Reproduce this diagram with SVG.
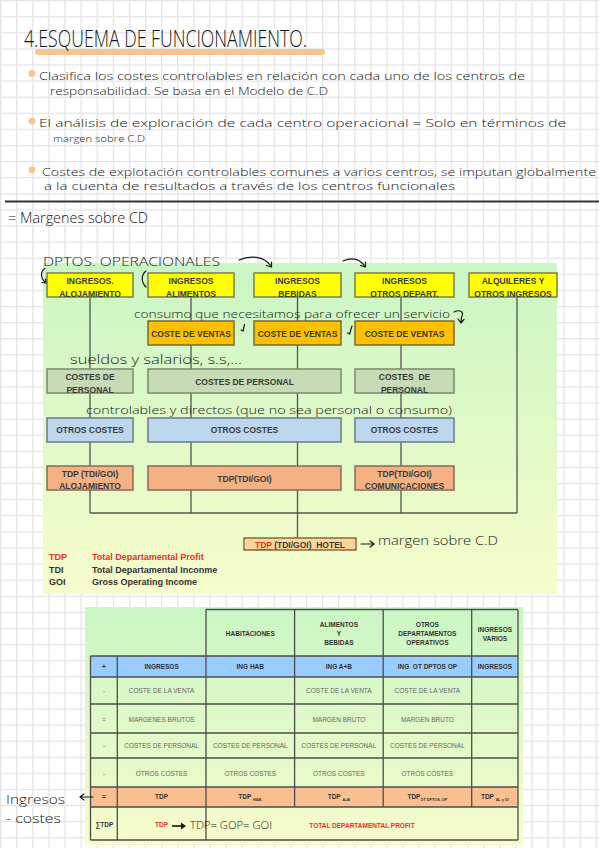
<svg xmlns="http://www.w3.org/2000/svg" width="599" height="848" viewBox="0 0 599 848">
<defs>
<pattern id="grid" width="16.1" height="16.1" patternUnits="userSpaceOnUse">
<rect width="16.1" height="16.1" fill="#ffffff"/>
<path d="M0.6 0V16.1M0 0.6H16.1" stroke="#e3e3e3" stroke-width="1.2"/>
</pattern>
<linearGradient id="g1" x1="0" y1="0" x2="0" y2="1">
<stop offset="0" stop-color="#c9f6c4"/><stop offset="1" stop-color="#f7fccb"/>
</linearGradient>
<style>
.hand{font-family:"Open Sans","Noto Sans",sans-serif;font-weight:300;fill:#161616}
.ink{fill:none;stroke:#161616;stroke-width:1.2;stroke-linecap:round;stroke-linejoin:round}
.bt{font-family:"Liberation Sans",Arial,sans-serif;font-weight:bold;font-size:8.5px;fill:#3a3a3a;text-anchor:middle}
.yel{fill:#ffff00;stroke:#7d7d45;stroke-width:1.5}
.org{fill:#ffc000;stroke:#7a6a3a;stroke-width:1.5}
.per{fill:#c6dbb6;stroke:#7a8a6a;stroke-width:1.5}
.otr{fill:#bdd7ee;stroke:#6a7a8a;stroke-width:1.5}
.tdp{fill:#f4b183;stroke:#8a6a55;stroke-width:1.5}
.con{stroke:#555555;stroke-width:1.3;fill:none}
.leg{font-family:"Liberation Sans",Arial,sans-serif;font-weight:bold;font-size:9px;fill:#333}
.tl{stroke:#4d4d4d;stroke-width:1.3;fill:none}
.th{font-family:"Liberation Sans",Arial,sans-serif;font-weight:bold;font-size:6.5px;fill:#333;text-anchor:middle}
.td{font-family:"Liberation Sans",Arial,sans-serif;font-size:6.5px;fill:#666;text-anchor:middle}
.red{fill:#e8312a}
</style>
</defs>

<rect width="599" height="848" fill="url(#grid)"/>

<!-- header notes -->
<g id="title">
<path d="M38 52H322" stroke="#f9c48c" stroke-width="6" stroke-linecap="round"/>
<text class="hand" x="24" y="47" font-size="23" textLength="283" lengthAdjust="spacingAndGlyphs">4.ESQUEMA DE FUNCIONAMIENTO.</text>
</g>
<g id="bullets">
<circle cx="32" cy="73.5" r="3.4" fill="#f7c68f"/>
<text class="hand" x="39" y="80" font-size="11.5" textLength="486" lengthAdjust="spacingAndGlyphs">Clasifica los costes controlables en relación con cada uno de los centros de</text>
<text class="hand" x="50" y="95" font-size="10.5" textLength="278" lengthAdjust="spacingAndGlyphs">responsabilidad. Se basa en el Modelo de C.D</text>
<circle cx="32" cy="121" r="3.4" fill="#f7c68f"/>
<text class="hand" x="39" y="127" font-size="11.5" textLength="527" lengthAdjust="spacingAndGlyphs">El análisis de exploración de cada centro operacional = Solo en términos de</text>
<text class="hand" x="53" y="142" font-size="8.5" textLength="92" lengthAdjust="spacingAndGlyphs">margen sobre C.D</text>
<circle cx="32" cy="170" r="3.4" fill="#f7c68f"/>
<text class="hand" x="42" y="176" font-size="11.5" textLength="554" lengthAdjust="spacingAndGlyphs">Costes de explotación controlables comunes a varios centros, se imputan globalmente</text>
<text class="hand" x="44" y="190" font-size="11" textLength="411" lengthAdjust="spacingAndGlyphs">a la cuenta de resultados a través de los centros funcionales</text>
</g>
<path d="M5 201.5H599" stroke="#333" stroke-width="2"/>
<text class="hand" x="8" y="223" font-size="14" textLength="140" lengthAdjust="spacingAndGlyphs">= Margenes sobre CD</text>

<!-- diagram background -->
<rect x="43" y="263" width="514" height="331" fill="url(#g1)"/>

<g id="connectors">
<path class="con" d="M90 297V513M191 297V513M297.5 297V538M401 297V513M517 297V513M90 513H517"/>
</g>

<g id="n-ing-aloj"><rect class="yel" x="47" y="273" width="86" height="24"/><text class="bt" x="90" y="284">INGRESOS.</text><text class="bt" x="90" y="296.5">ALOJAMIENTO</text></g>
<g id="n-ing-alim"><rect class="yel" x="148" y="273" width="86" height="24"/><text class="bt" x="191" y="284">INGRESOS</text><text class="bt" x="191" y="296.5">ALIMENTOS</text></g>
<g id="n-ing-beb"><rect class="yel" x="254" y="273" width="87" height="24"/><text class="bt" x="297.5" y="284">INGRESOS</text><text class="bt" x="297.5" y="296.5">BEBIDAS</text></g>
<g id="n-ing-otros"><rect class="yel" x="355" y="273" width="99" height="24"/><text class="bt" x="404.5" y="284">INGRESOS</text><text class="bt" x="404.5" y="296.5">OTROS DEPART.</text></g>
<g id="n-alq"><rect class="yel" x="469" y="273" width="88" height="24"/><text class="bt" x="513" y="284">ALQUILERES Y</text><text class="bt" x="513" y="296.5">OTROS INGRESOS</text></g>

<g id="n-cv1"><rect class="org" x="148" y="321" width="86" height="24"/><text class="bt" x="191" y="336.5">COSTE DE VENTAS</text></g>
<g id="n-cv2"><rect class="org" x="254" y="321" width="87" height="24"/><text class="bt" x="297.5" y="336.5">COSTE DE VENTAS</text></g>
<g id="n-cv3"><rect class="org" x="355" y="321" width="99" height="24"/><text class="bt" x="404.5" y="336.5">COSTE DE VENTAS</text></g>

<g id="n-cp1"><rect class="per" x="47" y="369" width="86" height="24"/><text class="bt" x="90" y="380">COSTES DE</text><text class="bt" x="90" y="392.5">PERSONAL</text></g>
<g id="n-cp2"><rect class="per" x="148" y="369" width="193" height="24"/><text class="bt" x="244.5" y="384.5">COSTES DE PERSONAL</text></g>
<g id="n-cp3"><rect class="per" x="355" y="369" width="99" height="24"/><text class="bt" x="404.5" y="380" xml:space="preserve">COSTES  DE</text><text class="bt" x="404.5" y="392.5">PERSONAL</text></g>

<g id="n-oc1"><rect class="otr" x="47" y="418" width="86" height="24"/><text class="bt" x="90" y="433">OTROS COSTES</text></g>
<g id="n-oc2"><rect class="otr" x="148" y="418" width="193" height="24"/><text class="bt" x="244.5" y="433">OTROS COSTES</text></g>
<g id="n-oc3"><rect class="otr" x="355" y="418" width="99" height="24"/><text class="bt" x="404.5" y="433">OTROS COSTES</text></g>

<g id="n-tdp1"><rect class="tdp" x="47" y="466" width="86" height="24"/><text class="bt" x="90" y="476.5">TDP (TDI/GOI)</text><text class="bt" x="90" y="489">ALOJAMIENTO</text></g>
<g id="n-tdp2"><rect class="tdp" x="148" y="466" width="193" height="24"/><text class="bt" x="244.5" y="481.5">TDP(TDI/GOI)</text></g>
<g id="n-tdp3"><rect class="tdp" x="355" y="466" width="99" height="24"/><text class="bt" x="404.5" y="476.5">TDP(TDI/GOI)</text><text class="bt" x="404.5" y="489">COMUNICACIONES</text></g>

<g id="n-hotel"><rect x="244" y="538" width="112" height="12" fill="#ffd699" stroke="#8a6a3a" stroke-width="1.5"/>
<text class="bt" x="300" y="548" font-size="8" xml:space="preserve"><tspan class="red" text-decoration="underline">TDP</tspan> (TDI/GOI)  HOTEL</text></g>

<g id="legend">
<text class="leg red" x="49" y="560">TDP</text><text class="leg red" x="92" y="560">Total Departamental Profit</text>
<text class="leg" x="49" y="572.5">TDI</text><text class="leg" x="92" y="572.5">Total Departamental Inconme</text>
<text class="leg" x="49" y="584.5">GOI</text><text class="leg" x="92" y="584.5">Gross Operating Income</text>
</g>

<!-- handwritten annotations -->
<g id="notes">
<text class="hand" x="43" y="266" font-size="13" textLength="177" lengthAdjust="spacingAndGlyphs">DPTOS. OPERACIONALES</text>
<path class="ink" d="M239 260C250 255 264 256 271 266M266.5 265.5L271.5 267L271.5 262"/>
<path class="ink" d="M343 261C352 257 360 259 365 266.5M360.5 265.5L365.5 267L365.5 262"/>
<path class="ink" d="M45 268.5C40.5 271 40 278 45.5 282.5M42 282.5L46 283L45.5 279"/>
<path class="ink" d="M146 271C141 275 141 282 146 287"/>
<text class="hand" x="134" y="318" font-size="11.5" textLength="316" lengthAdjust="spacingAndGlyphs">consumo que necesitamos para ofrecer un servicio</text>
<path class="ink" d="M454 312C460 309 464.5 312 461.5 317L461 322M458 319L461 323L464 319.5"/>
<path class="ink" d="M244.5 324.5L243 331M241 330L243.5 331" stroke-width="1.6"/>
<path class="ink" d="M352 326L349.5 334M347.5 333L350 334" stroke-width="1.6"/>
<text class="hand" x="70" y="364" font-size="12" textLength="172" lengthAdjust="spacingAndGlyphs">sueldos y salarios, s.s,...</text>
<text class="hand" x="86" y="414" font-size="11.5" textLength="366" lengthAdjust="spacingAndGlyphs">controlables y directos (que no sea personal o consumo)</text>
<path class="ink" d="M361 544H374M370 541L374 544L370 547"/>
<text class="hand" x="378" y="545" font-size="12" textLength="120" lengthAdjust="spacingAndGlyphs">margen sobre C.D</text>
</g>

<!-- table -->
<g id="table">
<rect x="85" y="607" width="438" height="238" fill="url(#g1)"/>
<rect x="90.5" y="656" width="427.5" height="21" fill="#99ccff"/>
<rect x="90.5" y="787" width="427.5" height="20" fill="#f9bf90"/>
<path class="tl" d="M206 609.5H518M90.5 656H518M90.5 677H518M90.5 704H518M90.5 733H518M90.5 758H518M90.5 787H518M90.5 807H518M90.5 840H518"/>
<path class="tl" d="M90.5 656V840M117.3 656V840M206 609.5V840M294.6 609.5V807M383.2 609.5V807M471.7 609.5V807M518 609.5V840"/>

<text class="th" x="250.3" y="635.5">HABITACIONES</text>
<text class="th" x="338.9" y="627">ALIMENTOS</text><text class="th" x="338.9" y="636">Y</text><text class="th" x="338.9" y="645">BEBIDAS</text>
<text class="th" x="427.4" y="627">OTROS</text><text class="th" x="427.4" y="636">DEPARTAMENTOS</text><text class="th" x="427.4" y="645">OPERATIVOS</text>
<text class="th" x="494.9" y="632">INGRESOS</text><text class="th" x="494.9" y="641">VARIOS</text>

<text class="th" x="104" y="669">+</text>
<text class="th" x="161.6" y="669">INGRESOS</text>
<text class="th" x="250.3" y="669">ING HAB</text>
<text class="th" x="338.9" y="669">ING A+B</text>
<text class="th" x="427.4" y="669" xml:space="preserve">ING  OT DPTOS OP</text>
<text class="th" x="494.9" y="669">INGRESOS</text>

<text class="td" x="104" y="693">-</text>
<text class="td" x="161.6" y="693">COSTE DE LA VENTA</text>
<text class="td" x="338.9" y="693">COSTE DE LA VENTA</text>
<text class="td" x="427.4" y="693">COSTE DE LA VENTA</text>

<text class="td" x="104" y="721.5" fill="#444">=</text>
<text class="td" x="161.6" y="721.5">MARGENES BRUTOS</text>
<text class="td" x="338.9" y="721.5">MARGEN BRUTO</text>
<text class="td" x="427.4" y="721.5">MARGEN BRUTO</text>

<text class="td" x="104" y="748">-</text>
<text class="td" x="161.6" y="748">COSTES DE PERSONAL</text>
<text class="td" x="250.3" y="748">COSTES DE PERSONAL</text>
<text class="td" x="338.9" y="748">COSTES DE PERSONAL</text>
<text class="td" x="427.4" y="748">COSTES DE PERSONAL</text>

<text class="td" x="104" y="775.5">-</text>
<text class="td" x="161.6" y="775.5">OTROS COSTES</text>
<text class="td" x="250.3" y="775.5">OTROS COSTES</text>
<text class="td" x="338.9" y="775.5">OTROS COSTES</text>
<text class="td" x="427.4" y="775.5">OTROS COSTES</text>

<text class="th" x="104" y="799" font-size="6">=</text>
<text class="th" x="161.6" y="799" font-size="6">TDP</text>
<text class="th" x="250.3" y="799" font-size="6">TDP <tspan font-size="3.8" dy="1.5">HAB.</tspan></text>
<text class="th" x="338.9" y="799" font-size="6">TDP <tspan font-size="3.8" dy="1.5">A+B</tspan></text>
<text class="th" x="427.4" y="799" font-size="6">TDP<tspan font-size="3.8" dy="1.5">OT DPTOS. OP</tspan></text>
<text class="th" x="494.9" y="799" font-size="6">TDP <tspan font-size="3.8" dy="1.5">AL y OI</tspan></text>

<text class="th" x="104.5" y="826.5" font-size="6">∑TDP</text>
<text class="th red" x="161.6" y="826.5" font-size="6">TDP</text>
<text class="th red" x="362" y="828" font-size="6.5">TOTAL DEPARTAMENTAL PROFIT</text>
</g>
<g id="table-notes">
<path d="M172 826H182" stroke="#161616" stroke-width="1.6"/><path d="M181 822.5L186 826L181 829.5Z" fill="#161616"/>
<text class="hand" x="190" y="829" font-size="11.5" textLength="82" lengthAdjust="spacingAndGlyphs">TDP= GOP= GOI</text>
<text class="hand" x="6" y="804" font-size="13" textLength="59" lengthAdjust="spacingAndGlyphs">Ingresos</text>
<path class="ink" d="M93 797H80M84 794L80 797L84 800"/>
<text class="hand" x="6" y="823" font-size="12" textLength="55" lengthAdjust="spacingAndGlyphs">- costes</text>
</g>
</svg>
